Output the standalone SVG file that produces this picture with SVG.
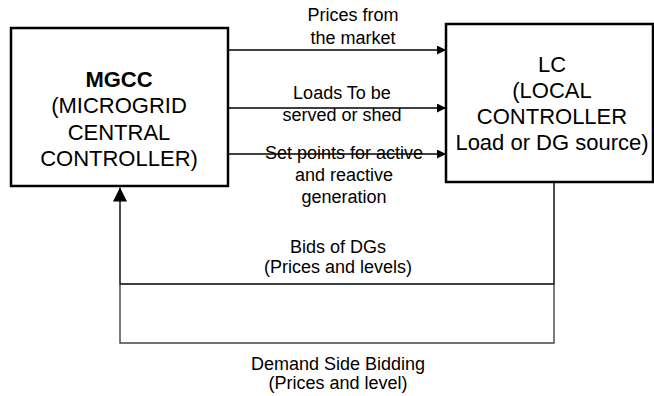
<svg xmlns="http://www.w3.org/2000/svg" width="654" height="396" viewBox="0 0 654 396">
<style>
text{font-family:"Liberation Sans",Arial,sans-serif;fill:#000;text-anchor:middle}
.box{fill:#fff;stroke:#000;stroke-width:2.5}
.bt{font-size:22px}
.lb{font-size:18px}
.ln{fill:none;stroke:#000;stroke-width:1.4}
.gl{fill:none;stroke:#444;stroke-width:1.4}
</style>
<defs>
<marker id="ah" viewBox="0 0 10 10" refX="10" refY="5" markerWidth="9" markerHeight="9" markerUnits="userSpaceOnUse" orient="auto">
<path d="M0,0 L10,5 L0,10 z" fill="#000"/>
</marker>
<marker id="au" viewBox="0 0 10 10" refX="10" refY="5" markerWidth="14" markerHeight="14" markerUnits="userSpaceOnUse" orient="auto">
<path d="M0,0 L10,5 L0,10 z" fill="#000"/>
</marker>
</defs>
<g id="connectors">
<line class="ln" x1="229" y1="50" x2="446" y2="50" marker-end="url(#ah)"/>
<line class="ln" x1="229" y1="108" x2="446" y2="108" marker-end="url(#ah)"/>
<line class="ln" x1="229" y1="154" x2="446" y2="154" marker-end="url(#ah)"/>
<polyline class="ln" points="554,183 554,284 120,284 120,187.5" marker-end="url(#au)"/>
<polyline class="gl" points="554,284 554,343 120,343 120,284"/>
</g>
<g id="labels">
<text class="lb" x="353" y="21">Prices from</text>
<text class="lb" x="353" y="44">the market</text>
<text class="lb" x="342" y="99">Loads To be</text>
<text class="lb" x="342" y="121">served or shed</text>
<text class="lb" x="344" y="159">Set points for active</text>
<text class="lb" x="344" y="181">and reactive</text>
<text class="lb" x="344" y="203">generation</text>
<text class="lb" x="338" y="253">Bids of DGs</text>
<text class="lb" x="338" y="273">(Prices and levels)</text>
<text class="lb" x="338" y="370">Demand Side Bidding</text>
<text class="lb" x="338" y="389">(Prices and level)</text>
</g>
<g id="mgcc">
<rect class="box" x="11" y="28" width="217" height="158"/>
<text class="bt" x="119" y="87" font-weight="bold" font-size="25">MGCC</text>
<text class="bt" x="119" y="113">(MICROGRID</text>
<text class="bt" x="119" y="140">CENTRAL</text>
<text class="bt" x="119" y="166">CONTROLLER)</text>
</g>
<g id="lc">
<rect class="box" x="446" y="24" width="207" height="158"/>
<text class="bt" x="552" y="72" font-size="27">LC</text>
<text class="bt" x="552" y="98">(LOCAL</text>
<text class="bt" x="552" y="124">CONTROLLER</text>
<text class="bt" x="552" y="150">Load or DG source)</text>
</g>
</svg>
